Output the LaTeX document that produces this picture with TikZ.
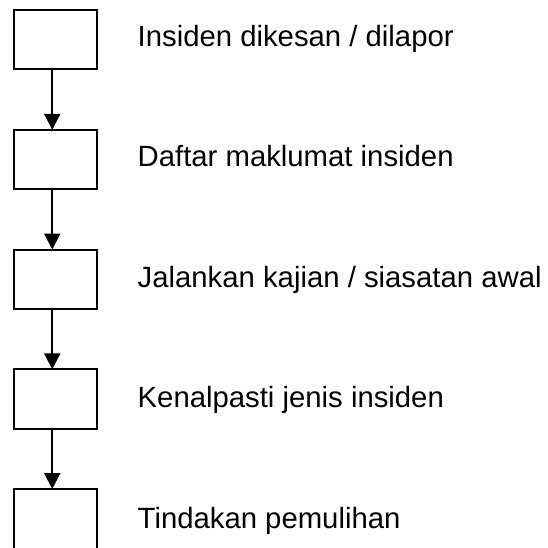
\documentclass[tikz,border=0pt]{standalone}
\usepackage{fontspec}
\setmainfont{Liberation Sans}
\usetikzlibrary{arrows.meta}
\begin{document}
\begin{tikzpicture}[x=1pt,y=-1pt,
  box/.style={draw, line width=2pt, minimum width=83.5pt, minimum height=59.5pt, inner sep=0pt, outer sep=0pt, anchor=north west},
  lbl/.style={anchor=base west, inner sep=0pt, font=\fontsize{29.3}{34}\selectfont},
  arr/.style={line width=2pt, -{Triangle[length=16pt,width=16pt]}}]
\useasboundingbox (0,0) rectangle (547,548);
\node[box] (b1) at (13.5,10) {};
\node[box] (b2) at (13.5,129.8) {};
\node[box] (b3) at (13.5,249.5) {};
\node[box] (b4) at (13.5,369.3) {};
\node[box] (b5) at (13.5,489) {};
\node[lbl] (t1) at (137.5,46.7) {Insiden dikesan / dilapor};
\node[lbl] (t2) at (137.5,167) {Daftar maklumat insiden};
\node[lbl] (t3) at (137.5,287.3) {Jalankan kajian / siasatan awal};
\node[lbl] (t4) at (137.5,407.6) {Kenalpasti jenis insiden};
\node[lbl] (t5) at (137.5,528) {Tindakan pemulihan};
\draw[arr] ([xshift=-3pt]b1.south) -- ([xshift=-3pt]b2.north);
\draw[arr] ([xshift=-3pt]b2.south) -- ([xshift=-3pt]b3.north);
\draw[arr] ([xshift=-3pt]b3.south) -- ([xshift=-3pt]b4.north);
\draw[arr] ([xshift=-3pt]b4.south) -- ([xshift=-3pt]b5.north);
\end{tikzpicture}
\end{document}
